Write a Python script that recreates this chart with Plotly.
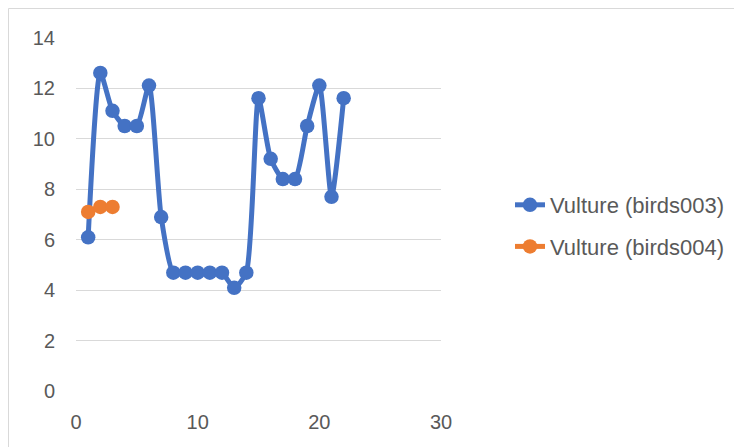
import plotly.graph_objects as go

x_003 = list(range(1, 23))
y_003 = [6.1, 12.6, 11.1, 10.5, 10.5, 12.1, 6.9, 4.7, 4.7, 4.7, 4.7, 4.7,
         4.1, 4.7, 11.6, 9.2, 8.4, 8.4, 10.5, 12.1, 7.7, 11.6]
x_004 = [1, 2, 3]
y_004 = [7.1, 7.3, 7.3]
names = ["Vulture (birds003)", "Vulture (birds004)"]
colors = ["#4472C4", "#ED7D31"]

fig = go.Figure()
for i, (xs, ys) in enumerate([(x_003, y_003), (x_004, y_004)]):
    fig.add_trace(go.Scatter(
        x=xs, y=ys, name=names[i], mode="lines+markers",
        line=dict(color=colors[i], width=5, shape="spline", smoothing=0.6),
        marker=dict(color=colors[i], size=14.5),
        legendgroup=f"g{i}",
    ))

W, H = 742, 447
L, T = 68, 29
pw, ph = 365, 355
R = W - L - pw
B = H - T - ph

fig.update_layout(
    width=W, height=H,
    margin=dict(l=L, r=R, t=T, b=B),
    paper_bgcolor="white", plot_bgcolor="white",
    font=dict(family="Liberation Sans", size=20, color="#595959"),
    showlegend=True,
    legend=dict(x=(502 - L) / pw, y=(384 - 218) / ph,
                xanchor="left", yanchor="middle",
                tracegroupgap=10, font=dict(size=22, color="#595959"),
                bgcolor="rgba(0,0,0,0)"),
    xaxis=dict(range=[0, 30], tickvals=[0, 10, 20, 30], showgrid=False,
               zeroline=False, showline=False, ticks="", ticklabelstandoff=16,
               tickfont=dict(size=20)),
    yaxis=dict(range=[-0.02, 14.02], tickvals=list(range(0, 15, 2)), showgrid=True,
               gridcolor="#D9D9D9", gridwidth=1.3, zeroline=False, showline=False,
               ticks="", ticklabelstandoff=20, tickfont=dict(size=20)),
    shapes=[dict(type="rect", xref="paper", yref="paper",
                 x0=(0.5 - L) / pw, x1=(W + 20 - L) / pw,
                 y0=-(B + 20) / ph, y1=1 + (T - 0.5) / ph,
                 line=dict(color="#D9D9D9", width=1), layer="below")],
)

fig.write_html("out.html")
